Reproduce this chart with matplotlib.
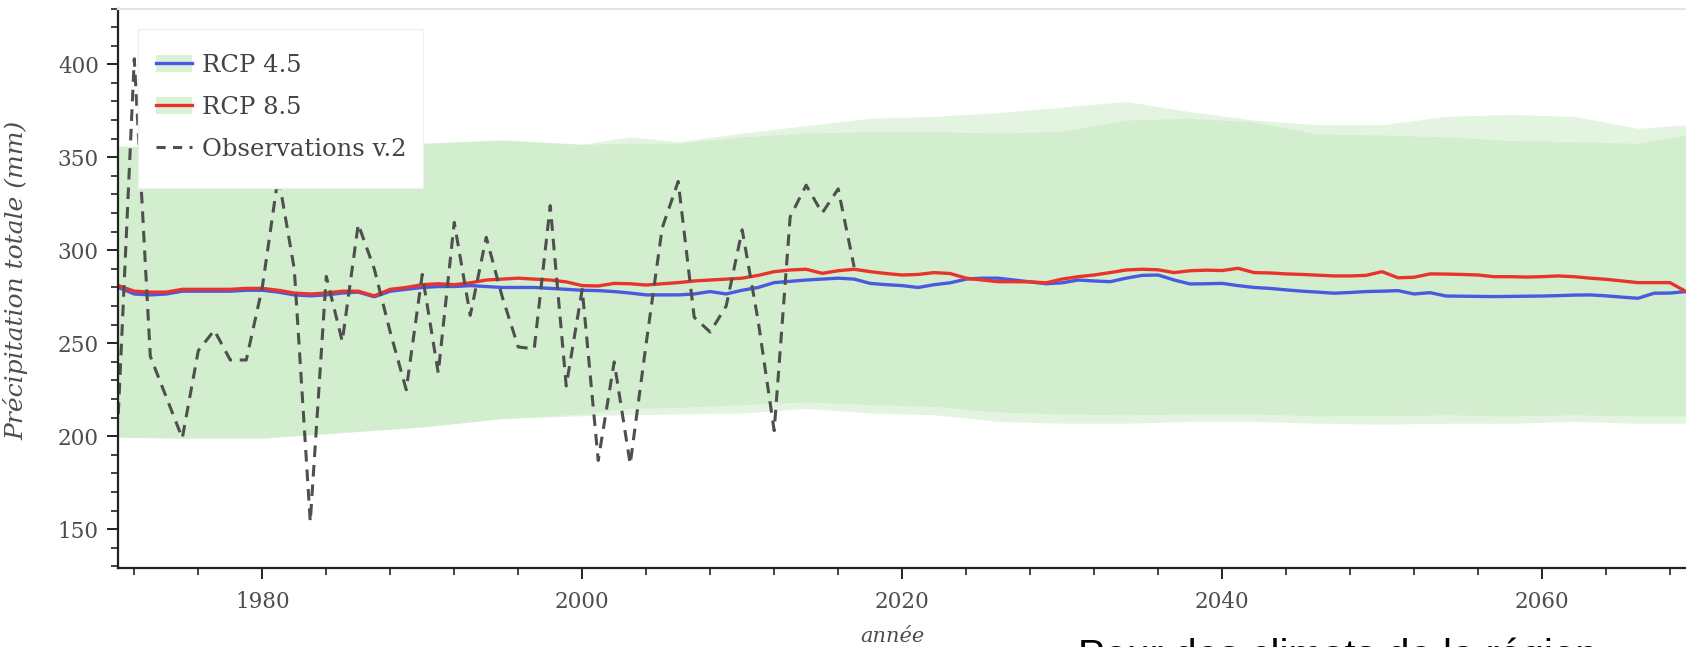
import numpy as np
import matplotlib
matplotlib.use("Agg")
import matplotlib.pyplot as plt
from matplotlib.patches import Patch, Rectangle
from matplotlib.lines import Line2D

# yearly ensemble means (mm)
years = list(range(1971, 2070))
rcp45 = [280, 276.5, 276, 276.5, 278, 278, 278, 278, 278.5, 278.5,
         277.5, 276, 275.5, 276, 277, 277.5, 275, 278, 279, 280,
         280.5, 280.5, 281, 280.5, 280, 280, 280, 279.5, 279, 278.5,
         278.3, 277.8, 277, 276, 276, 276, 276.5, 277.8, 276.5, 278.5,
         280, 282.6, 283.3, 284, 284.5, 285, 284.5, 282.2, 281.5, 281,
         280, 281.5, 282.5, 284.5, 285, 285, 284, 283, 282, 282.5,
         284, 283.5, 283.1, 285, 286.5, 286.7, 284, 281.9, 282, 282.2,
         281, 280, 279.5, 278.7, 278, 277.5, 276.9, 277.3, 277.8, 278,
         278.3, 276.5, 277.2, 275.4, 275.3, 275.2, 275.1, 275.2, 275.3, 275.4,
         275.6, 275.9, 276, 275.5, 274.8, 274.2, 276.9, 277, 277.8]
rcp85 = [281, 278, 277.5, 277.5, 279, 279, 279, 279, 279.5, 279.5,
         278.5, 277, 276.5, 277, 278, 278, 275.5, 279, 280, 281.5,
         282, 281.5, 282.5, 284, 284.5, 285, 284.5, 284, 283, 281,
         280.8, 282.2, 282, 281.3, 282, 282.6, 283.5, 284, 284.5, 285,
         286.5, 288.5, 289.4, 289.8, 287.6, 289, 289.8, 288.5, 287.5, 286.7,
         287, 288, 287.5, 285, 284, 283.1, 283.1, 283, 282.5, 284.5,
         285.8, 286.7, 288, 289.4, 289.8, 289.5, 288, 289, 289.3, 289.1,
         290.3, 288, 287.8, 287.3, 287, 286.6, 286.2, 286.2, 286.5, 288.5,
         285.2, 285.5, 287.3, 287.2, 287, 286.7, 285.8, 285.8, 285.6, 285.8,
         286.2, 285.8, 285, 284.4, 283.5, 282.6, 282.6, 282.6, 277.8]

# min / max envelopes of the two ensembles
band_years = [1971, 1975, 1980, 1985, 1990, 1995, 2000, 2003, 2006, 2010, 2014, 2018, 2022,
              2026, 2030, 2034, 2038, 2042, 2046, 2050, 2054, 2058, 2062, 2066, 2069]
low45 = [199.5, 199, 199, 202, 205, 209.5, 212, 215, 215.5, 217, 218.5, 217, 216,
         213, 212, 211.5, 212, 212, 211, 211, 211.5, 211, 211.5, 211, 211]
high45 = [356, 355.5, 355.5, 355.5, 357.5, 359, 357, 357.5, 357.5, 361, 363, 363.8, 363.8,
          363, 364, 370, 371, 369, 362.5, 362, 361, 359, 358.4, 357.5, 362]
low85 = [199.5, 199, 199, 202, 205, 209.5, 211, 211.6, 212, 212.5, 215, 212.5, 211.6,
         208, 207, 207, 208, 208, 207, 206.5, 207, 207, 208, 207, 207]
high85 = [356, 355.5, 355.5, 355.5, 357.5, 359.5, 357, 361, 358.4, 363, 367, 371, 372,
          374, 377, 380, 374.5, 370, 367.5, 367.5, 372, 373, 372, 365.6, 367.4]

# observations
obs_years = list(range(1971, 2018))
obs = [212, 403, 243, 221, 199, 246, 257, 241, 241, 280,
       340, 290, 154, 286, 251, 314, 290, 256, 225, 287,
       234, 315, 265, 307, 275, 248, 247, 324, 227, 279,
       187, 240, 185, 250, 312, 337, 264, 256, 270, 311,
       262, 203, 318, 335, 320, 333, 291]

SERIF = "DejaVu Serif"
GREEN = (0.74, 0.90, 0.71)
GREY = "#4d4d4d"
W, H = 1686, 647

fig = plt.figure(figsize=(W / 100, H / 100), dpi=100)
ax = fig.add_axes([118.3 / W, (H - 568.3) / H, (W - 118.3) / W, (568.3 - 8.5) / H])

ax.fill_between(band_years, low45, high45, color=GREEN, alpha=0.41, lw=0)
ax.fill_between(band_years, low85, high85, color=GREEN, alpha=0.41, lw=0)
ax.plot(years, rcp45, color="#4a5ae0", lw=2.4)
ax.plot(years, rcp85, color="#e8342c", lw=2.4)
ax.plot(obs_years, obs, color="#4f4f4f", lw=2.2, dashes=(3.8, 2.6))

ax.set_xlim(1971.0, 2069.0)
ax.set_ylim(129, 430)
ax.set_xticks([1980, 2000, 2020, 2040, 2060])
ax.set_xticks(np.arange(1972, 2069, 4), minor=True)
ax.set_yticks([150, 200, 250, 300, 350, 400])
ax.set_yticks(np.arange(130, 431, 10), minor=True)

for s in ["left", "bottom"]:
    ax.spines[s].set_linewidth(1.6)
    ax.spines[s].set_color("#222222")
ax.spines["right"].set_visible(False)
ax.spines["top"].set_color("#e4e4e4")
ax.spines["top"].set_linewidth(1.5)

ax.tick_params(which="major", length=8, width=1.4, color="#222222", labelsize=15.5,
               labelcolor=GREY, pad=6)
ax.tick_params(which="minor", length=5, width=1.2, color="#222222")
ax.tick_params(axis="x", which="major", pad=8)
for lab in ax.get_xticklabels() + ax.get_yticklabels():
    lab.set_family(SERIF)

ax.set_ylabel("Précipitation totale (mm)", family=SERIF, style="italic", fontsize=18, color=GREY)
ax.yaxis.set_label_coords(-0.0575, 0.515)
ax.set_xlabel("année", family=SERIF, style="italic", fontsize=15, color=GREY)
ax.xaxis.set_label_coords(0.494, -0.1227)
ax.xaxis.label.set_va("center")

# legend box drawn by hand so its padding can differ between sides
box = Rectangle((137.5 / W, 1 - 188 / H), (423 - 137.5) / W, (188 - 29) / H,
                transform=fig.transFigure, facecolor="white", edgecolor="#f0f0f0",
                lw=1, zorder=4.5, clip_on=False)
ax.add_patch(box)

h45 = (Patch(facecolor=GREEN, alpha=0.55, lw=0), Line2D([], [], color="#4a5ae0", lw=2.4))
h85 = (Patch(facecolor=GREEN, alpha=0.55, lw=0), Line2D([], [], color="#e8342c", lw=2.4))
hobs = Line2D([], [], color="#4f4f4f", lw=2.2, dashes=(3, 2.4))
leg = ax.legend([h45, h85, hobs], ["RCP 4.5", "RCP 8.5", "Observations v.2"],
                loc="upper left", bbox_to_anchor=(156 / W, 1 - 54 / H),
                bbox_transform=fig.transFigure, borderaxespad=0, borderpad=0,
                prop={"family": SERIF, "size": 17.5}, labelcolor="#444444",
                frameon=False, handlelength=1.5, handletextpad=0.4, labelspacing=0.78)

fig.text(1078 / W, (H - 638) / H, "Pour des climats de la région",
         family="Liberation Sans", fontsize=29, color="black", va="top", ha="left")

fig.savefig("out.png", dpi=100)
